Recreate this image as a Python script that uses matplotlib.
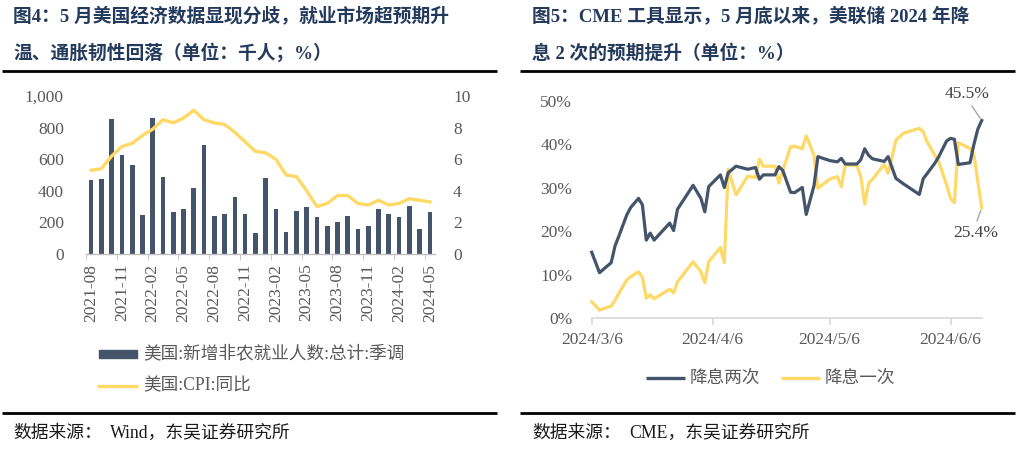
import matplotlib
matplotlib.use('Agg')
import matplotlib.pyplot as plt
from matplotlib.lines import Line2D
from matplotlib.patches import Rectangle
import datetime as dt

plt.rcParams['font.family'] = ['Liberation Serif', 'Noto Sans CJK SC']

# ---------------- data: left chart ----------------
months = ['2021-08', '2021-09', '2021-10', '2021-11', '2021-12',
          '2022-01', '2022-02', '2022-03', '2022-04', '2022-05', '2022-06',
          '2022-07', '2022-08', '2022-09', '2022-10', '2022-11', '2022-12',
          '2023-01', '2023-02', '2023-03', '2023-04', '2023-05', '2023-06',
          '2023-07', '2023-08', '2023-09', '2023-10', '2023-11', '2023-12',
          '2024-01', '2024-02', '2024-03', '2024-04', '2024-05']
nfp = [468, 476, 857, 627, 562, 246, 861, 490, 267, 282, 417, 688,
       240, 251, 358, 255, 133, 478, 282, 139, 272, 299, 236, 179,
       204, 242, 160, 179, 286, 253, 234, 305, 160, 267]
cpi = [5.3, 5.4, 6.2, 6.8, 7.0, 7.5, 7.9, 8.5, 8.3, 8.6, 9.1, 8.5,
       8.3, 8.2, 7.7, 7.1, 6.5, 6.4, 6.0, 5.0, 4.9, 4.0, 3.0, 3.2,
       3.7, 3.7, 3.2, 3.1, 3.4, 3.1, 3.2, 3.5, 3.4, 3.3]

# ---------------- data: right chart ----------------
start_date = '2024-03-06'
day_offsets = [0, 2, 5, 6, 7, 9, 10, 12, 13, 14, 15, 16, 20, 21, 22, 26, 28, 29,
               30, 33, 34, 35, 37, 40, 42, 43, 44, 47, 48, 49, 51, 52, 54, 55,
               57, 58, 61, 63, 64, 65, 68, 69, 70, 71, 72, 75, 76, 77, 78, 80,
               84, 85, 86, 88, 89, 91, 92, 93, 94, 97, 98, 99, 100]
cut_two = [15.2, 10.5, 12.8, 16.7, 19.0, 23.8, 25.5, 27.6, 26.1, 18.0, 19.6, 18.0,
           21.9, 20.2, 25.1, 30.6, 27.6, 24.5, 30.3, 33.0, 30.1, 33.5, 35.0, 34.3,
           34.7, 32.0, 33.0, 33.0, 34.9, 34.0, 29.0, 28.9, 30.1, 23.9, 30.5, 37.2,
           36.3, 36.0, 36.8, 35.5, 35.5, 36.5, 39.0, 37.5, 36.7, 36.1, 37.2, 34.7,
           32.2, 30.9, 28.5, 32.1, 33.3, 35.7, 37.2, 40.8, 41.4, 41.2, 35.4, 35.8,
           40.0, 43.5, 45.5]
cut_one = [3.8, 1.9, 2.8, 4.2, 5.8, 8.8, 9.6, 10.7, 9.4, 4.6, 5.4, 4.5,
           6.7, 5.8, 8.4, 13.0, 10.7, 8.2, 13.0, 16.3, 12.8, 34.3, 28.4, 32.7,
           32.4, 36.6, 35.0, 35.0, 31.1, 34.0, 39.5, 39.6, 39.0, 42.0, 37.5, 29.9,
           32.0, 32.6, 30.3, 35.2, 35.2, 32.6, 26.3, 31.1, 32.0, 35.4, 33.4, 37.0,
           41.0, 42.6, 43.7, 42.9, 40.6, 37.5, 36.0, 30.7, 27.6, 26.6, 40.4, 39.1,
           37.6, 31.5, 25.4]
right_xticks = ['2024-03-06', '2024-04-06', '2024-05-06', '2024-06-06']

# ---------------- styles ----------------
NAVY = '#44546A'
YEL = '#FFD966'
TITLE_C = '#243a5c'
TICK_C = '#595959'

W, H = 1016, 449
fig = plt.figure(figsize=(W / 100, H / 100), dpi=100)


def ax_px(x0, y0, x1, y1):
    return fig.add_axes([x0 / W, 1 - y1 / H, (x1 - x0) / W, (y1 - y0) / H])


def hline(x0, x1, y, lw=2.0, color='black'):
    fig.add_artist(Line2D([x0 / W, x1 / W], [1 - y / H, 1 - y / H],
                          transform=fig.transFigure, color=color, lw=lw,
                          solid_capstyle='butt'))


def ftext(x, y, s, **kw):
    fig.text(x / W, 1 - y / H, s, **kw)


# ---------------- titles / footers ----------------
tkw = dict(fontsize=13.5, fontweight='bold', color=TITLE_C, va='center', ha='left')
ftext(13, 17, '图4：5 月美国经济数据显现分歧，就业市场超预期升', **tkw)
ftext(13, 53, '温、通胀韧性回落（单位：千人；%）', **tkw)
ftext(532, 17, '图5：CME 工具显示，5 月底以来，美联储 2024 年降', **tkw)
ftext(532, 53, '息 2 次的预期提升（单位：%）', **tkw)
hline(2, 497, 71)
hline(520, 1015, 71)
hline(2, 497, 413)
hline(520, 1015, 413)
fkw = dict(fontsize=12.8, color='#1a1a1a', va='center', ha='left')
ftext(13, 433, '数据来源：', **fkw)
ftext(110, 433, 'Wind，东吴证券研究所', **fkw)
ftext(532, 433, '数据来源：', **fkw)
ftext(629, 433, 'CME，东吴证券研究所', **fkw)

# ---------------- left chart ----------------
ax = ax_px(86, 96, 435, 254)
x = list(range(len(months)))
ax.bar(x, nfp, width=0.45, color=NAVY, zorder=2)
ax.set_xlim(-0.5, len(months) - 0.5)
ax.set_ylim(0, 1000)
ax.set_yticks([0, 200, 400, 600, 800, 1000])
ax.set_yticklabels(['0', '200', '400', '600', '800', '1,000'])
for s in ['top', 'left', 'right']:
    ax.spines[s].set_visible(False)
ax.spines['bottom'].set_color('#BFBFBF')
ax.spines['bottom'].set_linewidth(1.0)
ax.set_xticks(x[::3])
ax.set_xticklabels(months[::3], rotation=90)
ax.set_xticks([i - 0.5 for i in x[::3]], minor=True)
ax.tick_params(axis='x', which='major', length=0, pad=7, labelsize=12.5, labelcolor=TICK_C)
ax.tick_params(axis='x', which='minor', length=4, color='#BFBFBF', direction='out')
ax.tick_params(axis='y', length=0, pad=16, labelsize=12.5, labelcolor=TICK_C)

ax2 = ax.twinx()
ax2.plot(x, cpi, color=YEL, lw=2.4, solid_joinstyle='round')
ax2.set_ylim(0, 10)
ax2.set_yticks([0, 2, 4, 6, 8, 10])
for s in ['top', 'left', 'right', 'bottom']:
    ax2.spines[s].set_visible(False)
ax2.tick_params(axis='y', length=0, pad=13, labelsize=12.5, labelcolor=TICK_C)

# left legend
fig.add_artist(Rectangle((99 / W, 1 - 358 / H), 38 / W, 8 / H,
                         transform=fig.transFigure, color=NAVY))
ftext(143, 354, '美国:新增非农就业人数:总计:季调', fontsize=12.7, color=TICK_C, va='center')
hline(97, 138, 386, lw=2.4, color=YEL)
ftext(143, 386, '美国:CPI:同比', fontsize=12.7, color=TICK_C, va='center')

# ---------------- right chart ----------------
base = dt.datetime.strptime(start_date, '%Y-%m-%d')
dates = [base + dt.timedelta(days=d) for d in day_offsets]
axr = ax_px(591.7, 101, 981.7, 318.3)
axr.plot(dates, cut_two, color=NAVY, lw=2.3, clip_on=False, zorder=3,
         solid_joinstyle='round')
axr.plot(dates, cut_one, color=YEL, lw=2.3, clip_on=False, zorder=2,
         solid_joinstyle='round')
axr.set_xlim(base, base + dt.timedelta(days=100))
axr.set_ylim(0, 50)
axr.set_yticks([0, 10, 20, 30, 40, 50])
axr.set_yticklabels([f'{v}%' for v in [0, 10, 20, 30, 40, 50]])
tick_dates = [dt.datetime.strptime(t, '%Y-%m-%d') for t in right_xticks]
axr.set_xticks(tick_dates)
axr.set_xticklabels([f'{d.year}/{d.month}/{d.day}' for d in tick_dates])
for s in ['top', 'left', 'right']:
    axr.spines[s].set_visible(False)
axr.spines['bottom'].set_color('#D9D9D9')
axr.spines['bottom'].set_linewidth(1.2)
axr.tick_params(axis='x', length=5, color='#D9D9D9', width=1.2, pad=5,
                labelsize=12.5, labelcolor=TICK_C)
axr.tick_params(axis='y', length=0, pad=14, labelsize=12.5, labelcolor=TICK_C)

last = dates[-1]
axr.annotate(f'{cut_two[-1]}%', xy=(last, cut_two[-1]), xytext=(967, H - 94),
             textcoords='figure pixels', ha='center', va='center', fontsize=12.5,
             color='#404040',
             arrowprops=dict(arrowstyle='-', color='#A6A6A6', lw=1,
                             relpos=(0.55, 0), shrinkA=1, shrinkB=2),
             annotation_clip=False)
axr.annotate(f'{cut_one[-1]}%', xy=(last, cut_one[-1]), xytext=(975.5, H - 233),
             textcoords='figure pixels', ha='center', va='center', fontsize=12.5,
             color='#404040',
             arrowprops=dict(arrowstyle='-', color='#A6A6A6', lw=1,
                             relpos=(0.5, 1), shrinkA=1, shrinkB=2),
             annotation_clip=False)

# right legend
hline(646, 685, 378, lw=2.4, color=NAVY)
ftext(690, 378, '降息两次', fontsize=12.7, color=TICK_C, va='center')
hline(781, 820, 378, lw=2.4, color=YEL)
ftext(825, 378, '降息一次', fontsize=12.7, color=TICK_C, va='center')

fig.savefig('out.png', dpi=100)
